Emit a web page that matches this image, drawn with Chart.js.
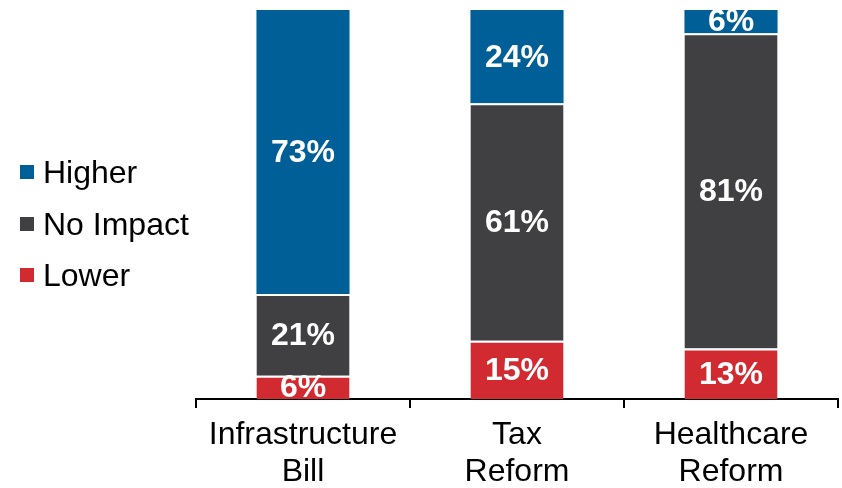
<!DOCTYPE html>
<html>
<head>
<meta charset="utf-8">
<script src="https://cdn.jsdelivr.net/npm/chart.js@4.4.1/dist/chart.umd.min.js"></script>
<style>
  html, body { margin: 0; padding: 0; background: #fff; }
  #wrap { position: relative; width: 842px; height: 488px; }
  #legend { position: absolute; left: 20px; top: 0; font-family: "Liberation Sans", Arial, sans-serif; font-size: 32px; color: #000; }
  .item { position: absolute; left: 0; display: flex; align-items: center; white-space: nowrap; height: 36px; line-height: 36px; }
  .item i { display: block; width: 14px; height: 14px; margin-right: 9px; }
</style>
</head>
<body>
<div id="wrap">
  <canvas id="impactChart"></canvas>
  <div id="legend"></div>
</div>
<script>
// categories and shares (percent of respondents)
const categories = [['Infrastructure', 'Bill'], ['Tax', 'Reform'], ['Healthcare', 'Reform']];
const lowerVals    = [6, 15, 13];
const noImpactVals = [21, 61, 81];
const higherVals   = [73, 24, 6];

const seriesNames  = ['Higher', 'No Impact', 'Lower'];
const seriesColors = { 'Higher': '#005f96', 'No Impact': '#404043', 'Lower': '#d12a30' };

const FONT = '"Liberation Sans", Arial, sans-serif';

// white percent labels centred in every segment
const segmentLabels = {
  id: 'segmentLabels',
  afterDatasetsDraw(chart) {
    const ctx = chart.ctx;
    ctx.save();
    ctx.fillStyle = '#fff';
    ctx.font = 'bold 32px ' + FONT;
    ctx.textAlign = 'center';
    ctx.textBaseline = 'middle';
    chart.data.datasets.forEach((ds, i) => {
      const meta = chart.getDatasetMeta(i);
      meta.data.forEach((bar, j) => {
        const p = bar.getProps(['x', 'y', 'base'], true);
        ctx.fillText(ds.data[j] + '%', p.x, (p.y + p.base) / 2 + 1);
      });
    });
    ctx.restore();
  }
};

const gap = { top: 2, left: 0, right: 0, bottom: 0 };

const chart = new Chart(document.getElementById('impactChart'), {
  type: 'bar',
  data: {
    labels: categories,
    datasets: [
      { label: 'Lower',     data: lowerVals,    backgroundColor: seriesColors['Lower'],     borderColor: '#fff', borderWidth: gap, borderSkipped: false },
      { label: 'No Impact', data: noImpactVals, backgroundColor: seriesColors['No Impact'], borderColor: '#fff', borderWidth: gap, borderSkipped: false },
      { label: 'Higher',    data: higherVals,   backgroundColor: seriesColors['Higher'],    borderWidth: 0 },
    ]
  },
  options: {
    responsive: true,
    maintainAspectRatio: false,
    animation: false,
    layout: { padding: { left: 196, right: 4, top: 10, bottom: 0 } },
    datasets: { bar: { categoryPercentage: 1, barPercentage: 0.435 } },
    plugins: { legend: { display: false }, tooltip: { enabled: false } },
    scales: {
      x: {
        stacked: true,
        grid: { display: true, drawOnChartArea: false, drawTicks: true, tickLength: 9, color: '#000', lineWidth: 2 },
        border: { display: true, color: '#000', width: 2 },
        ticks: { color: '#000', padding: 9, maxRotation: 0, minRotation: 0, autoSkip: false,
                 font: { family: FONT, size: 32, lineHeight: 37 / 32 } },
        afterFit(scale) { scale.height = 89; }
      },
      y: { stacked: true, display: false, min: 0, max: 100 }
    }
  },
  plugins: [segmentLabels]
});

// legend to the left of the plot
const legendTops = [154, 206, 257];
const legend = document.getElementById('legend');
seriesNames.forEach((name, i) => {
  const row = document.createElement('div');
  row.className = 'item';
  row.style.top = legendTops[i] + 'px';
  row.innerHTML = '<i style="background:' + seriesColors[name] + '"></i><span>' + name + '</span>';
  legend.appendChild(row);
});
</script>
</body>
</html>
